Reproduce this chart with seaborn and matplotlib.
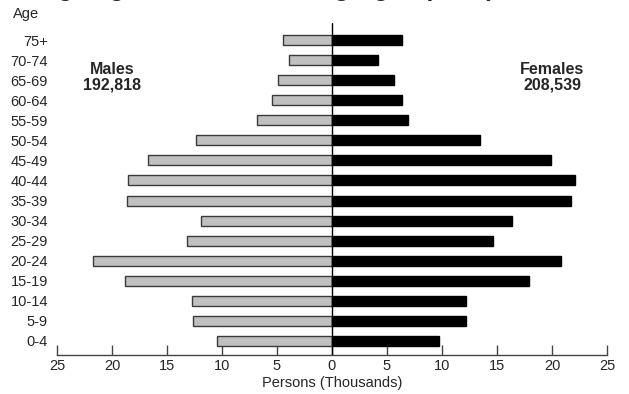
import matplotlib
matplotlib.use("Agg")
import matplotlib.pyplot as plt
import pandas as pd
import seaborn as sns
from matplotlib.ticker import FixedLocator, FuncFormatter

age_groups = ["75+", "70-74", "65-69", "60-64", "55-59", "50-54", "45-49", "40-44",
              "35-39", "30-34", "25-29", "20-24", "15-19", "10-14", "5-9", "0-4"]
males = [4.45, 3.9, 4.95, 5.5, 6.85, 12.4, 16.75, 18.55,
         18.65, 11.9, 13.2, 21.7, 18.85, 12.7, 12.6, 10.5]
females = [6.35, 4.15, 5.65, 6.35, 6.95, 13.45, 19.9, 22.1,
           21.7, 16.4, 14.6, 20.8, 17.9, 12.15, 12.15, 9.75]
x_ticks = [-25, -20, -15, -10, -5, 0, 5, 10, 15, 20, 25]

df = pd.concat([
    pd.DataFrame({"age": age_groups, "sex": "Males", "value": [-v for v in males]}),
    pd.DataFrame({"age": age_groups, "sex": "Females", "value": females}),
], ignore_index=True)

sns.set_theme(style="white")
plt.rcParams["font.family"] = ["Liberation Sans", "DejaVu Sans"]

fig = plt.figure(figsize=(6.29, 3.94), dpi=100)
ax = fig.add_axes([57 / 629, 1 - 355 / 394, 550 / 629, 332 / 394])

sns.barplot(data=df, x="value", y="age", hue="sex", order=age_groups,
            hue_order=["Males", "Females"], palette=["#c0c0c0", "black"],
            orient="h", dodge=False, width=0.5, legend=False, ax=ax)

for bars, edge in zip(ax.containers, ["#3a3a3a", "black"]):
    for b in bars:
        b.set_edgecolor(edge)
        b.set_linewidth(1.0)

ax.axvline(0, color="black", linewidth=1.0, zorder=5)
ax.set_xlim(-25, 25)
ax.set_ylim(15.7, -0.85)

ax.xaxis.set_major_locator(FixedLocator(x_ticks))
ax.xaxis.set_major_formatter(FuncFormatter(lambda v, _: f"{abs(v):g}"))
ax.tick_params(axis="x", direction="in", length=7, width=1, color="#444444",
               labelsize=10.5, pad=3, bottom=True)
ax.tick_params(axis="y", length=0, labelsize=10.5, pad=6.5)
for lab in ax.get_yticklabels():
    lab.set_horizontalalignment("right")

for side in ["left", "right", "top"]:
    ax.spines[side].set_visible(False)
ax.spines["bottom"].set_color("#444444")
ax.spines["bottom"].set_linewidth(1.0)

ax.set_ylabel("")
ax.set_xlabel("Persons (Thousands)", fontsize=10.5, labelpad=2)

fig.text(13 / 629, 1 - 14 / 394, "Age", fontsize=10.5, va="center", ha="left")
ax.text(-20, 1.85, "Males\n192,818", fontsize=11.5, fontweight="bold",
        ha="center", va="center", linespacing=1.1)
ax.text(20, 1.85, "Females\n208,539", fontsize=11.5, fontweight="bold",
        ha="center", va="center", linespacing=1.1)

# title sits mostly above the visible area, as in the cropped original
fig.text(40 / 629, 1 + 4 / 394, "Ageing Trends in Working Ages (2011)",
         fontsize=18, fontweight="bold", ha="left", va="baseline")

fig.savefig("out.png", dpi=100)
